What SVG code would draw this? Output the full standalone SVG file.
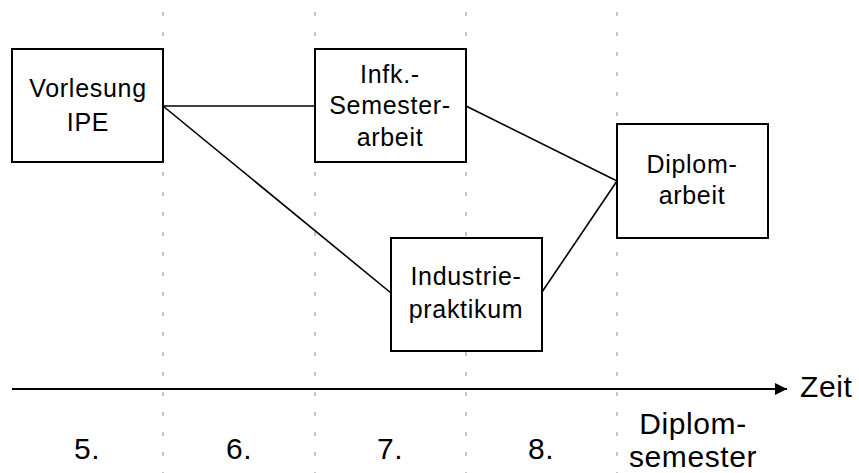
<svg xmlns="http://www.w3.org/2000/svg" width="859" height="473" viewBox="0 0 859 473">
  <style>
    .grid { stroke: #8c8c8c; stroke-width: 1; stroke-dasharray: 4 16; fill: none; }
    .box { fill: #ffffff; stroke: #000000; stroke-width: 2; }
    .link { stroke: #000000; stroke-width: 1.6; fill: none; }
    .axis { stroke: #000000; stroke-width: 2; fill: none; }
    text { font-family: "Liberation Sans", Arial, sans-serif; fill: #000000; text-anchor: middle; }
    .lbl { font-size: 25px; letter-spacing: 0.7px; }
    .sem { font-size: 30px; letter-spacing: 0.6px; }
  </style>
  <defs>
    <marker id="arrow" viewBox="0 0 12 12" refX="12" refY="6" markerWidth="12" markerHeight="12" markerUnits="userSpaceOnUse" orient="auto">
      <path d="M0,0 L12,6 L0,12 Z" fill="#000000"/>
    </marker>
  </defs>
  <rect width="859" height="473" fill="#ffffff"/>

  <!-- semester separators -->
  <g id="grid">
    <line class="grid" x1="163" y1="12" x2="163" y2="473"/>
    <line class="grid" x1="315" y1="12" x2="315" y2="473"/>
    <line class="grid" x1="466" y1="12" x2="466" y2="473"/>
    <line class="grid" x1="617" y1="12" x2="617" y2="473"/>
  </g>

  <!-- connectors -->
  <g id="connectors">
    <line class="link" x1="163" y1="106" x2="315" y2="106"/>
    <line class="link" x1="163" y1="106" x2="391" y2="293"/>
    <line class="link" x1="466" y1="106" x2="617" y2="181"/>
    <line class="link" x1="542" y1="292" x2="617" y2="181"/>
  </g>

  <g id="vorlesung">
    <rect class="box" x="12" y="49" width="151" height="113"/>
    <text class="lbl" x="88" y="97">Vorlesung</text>
    <text class="lbl" x="88" y="131">IPE</text>
  </g>

  <g id="semesterarbeit">
    <rect class="box" x="315" y="49" width="151" height="113"/>
    <text class="lbl" x="390" y="83">Infk.-</text>
    <text class="lbl" x="390" y="114">Semester-</text>
    <text class="lbl" x="390" y="146">arbeit</text>
  </g>

  <g id="industriepraktikum">
    <rect class="box" x="391" y="238" width="151" height="113"/>
    <text class="lbl" x="466" y="285">Industrie-</text>
    <text class="lbl" x="466" y="318">praktikum</text>
  </g>

  <g id="diplomarbeit">
    <rect class="box" x="617" y="124" width="151" height="114"/>
    <text class="lbl" x="692" y="173">Diplom-</text>
    <text class="lbl" x="692" y="204">arbeit</text>
  </g>

  <!-- time axis -->
  <g id="axis">
    <line class="axis" x1="12" y1="389" x2="787" y2="389" marker-end="url(#arrow)"/>
    <text class="sem" x="800" y="397" style="text-anchor:start">Zeit</text>
  </g>

  <g id="semesters">
    <text class="sem" x="87" y="459">5.</text>
    <text class="sem" x="239" y="459">6.</text>
    <text class="sem" x="390" y="459">7.</text>
    <text class="sem" x="541" y="459">8.</text>
    <text class="sem" x="693" y="434">Diplom-</text>
    <text class="sem" x="693" y="467">semester</text>
  </g>
</svg>
